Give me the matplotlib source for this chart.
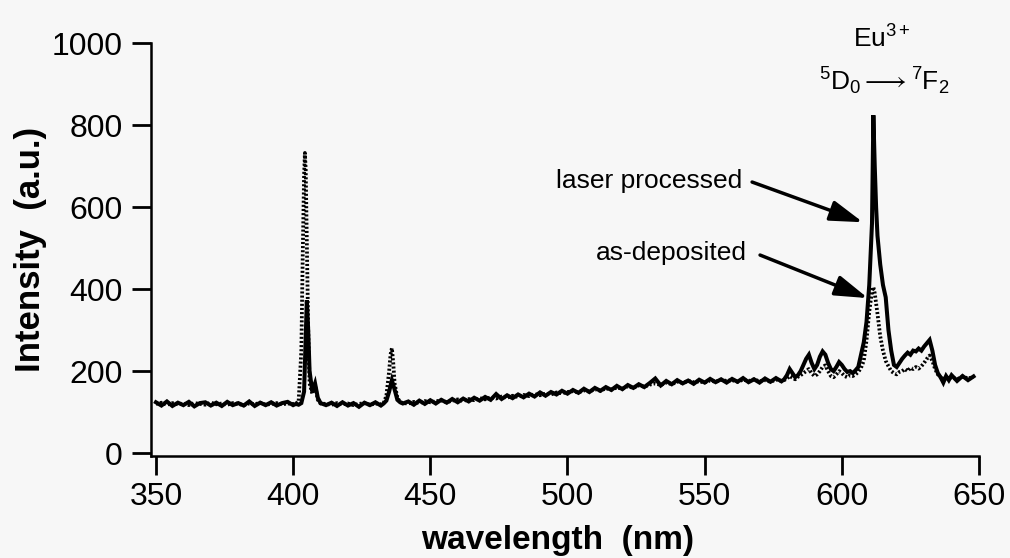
import matplotlib
matplotlib.use('Agg')
import matplotlib.pyplot as plt

plt.rcParams['font.family'] = ['Liberation Sans', 'DejaVu Sans']
plt.rcParams['mathtext.fontset'] = 'custom'
plt.rcParams['mathtext.rm'] = 'Liberation Sans'
plt.rcParams['mathtext.it'] = 'Liberation Sans:italic'
plt.rcParams['mathtext.default'] = 'regular'

# laser processed (solid)
wl_laser = [350, 352, 354, 356, 358, 360, 362, 364, 366, 368, 370, 372, 374, 376, 378, 380,
            382, 384, 386, 388, 390, 392, 394, 396, 398, 400,
            401, 402, 403, 404, 404.5, 405, 405.5, 406, 407, 408, 409, 410,
            412, 414, 416, 418, 420, 422, 424, 426, 428, 430, 432,
            433, 434, 435, 436, 437, 438, 439, 440,
            442, 444, 446, 448, 450, 452, 454, 456, 458, 460, 462, 464, 466, 468, 470,
            472, 474, 476, 478, 480, 482, 484, 486, 488, 490, 492, 494, 496, 498, 500,
            502, 504, 506, 508, 510, 512, 514, 516, 518, 520, 522, 524, 526, 528, 530,
            532, 534, 536, 538, 540, 542, 544, 546, 548, 550, 552, 554, 556, 558, 560,
            562, 564, 566, 568, 570, 572, 574, 576, 578,
            579, 580, 581, 582, 583, 584, 585, 586, 587, 588, 589, 590, 591, 592, 593,
            594, 595, 596, 597, 598, 599, 600, 601, 602, 603, 604, 605, 606, 607, 608,
            609, 610, 611, 611.5, 612, 612.5, 613, 614, 615, 616, 617, 618, 619, 620,
            621, 622, 623, 624, 625, 626, 627, 628, 629, 630, 631, 632, 633, 634, 635,
            636, 637, 638, 639, 640, 642, 644, 646, 648]
int_laser = [124, 116, 126, 115, 123, 117, 125, 114, 122, 124, 116, 123, 115, 125, 117, 122,
             116, 126, 115, 123, 117, 124, 116, 122, 125, 117,
             120, 118, 122, 150, 260, 373, 300, 200, 150, 170, 135, 122,
             117, 123, 115, 124, 116, 122, 113, 123, 117, 124, 116,
             121, 128, 150, 178, 155, 130, 124, 121,
             126, 118, 128, 120, 129, 121, 130, 123, 132, 124, 133, 126, 135, 128, 137,
             130, 144, 132, 141, 134, 143, 136, 145, 138, 148, 140, 149, 143, 152, 145,
             154, 147, 157, 149, 159, 152, 161, 154, 164, 156, 166, 159, 168, 161, 171,
             182, 165, 176, 168, 178, 170, 177, 169, 179, 172, 181, 173, 180, 172, 181,
             174, 183, 173, 180, 172, 182, 174, 183, 175,
             180, 190, 205, 195, 185, 190, 200, 215, 230, 240, 220, 205, 215, 235, 248,
             240, 220, 205, 200, 210, 222, 215, 205, 198, 200, 195, 202, 210, 240, 270,
             320, 410, 560, 824, 700, 600, 530, 460, 410, 380, 300, 250, 215, 210,
             220, 230, 238, 245, 240, 250, 248, 255, 250, 260, 268, 276, 250, 215, 195,
             185, 172, 188, 178, 190, 176, 188, 178, 187]

# as-deposited (dotted)
wl_asdep = [350, 352, 354, 356, 358, 360, 362, 364, 366, 368, 370, 372, 374, 376, 378, 380,
            382, 384, 386, 388, 390, 392, 394, 396, 398, 400,
            401, 402, 403, 403.5, 404, 404.3, 404.6, 405, 405.5, 406, 407, 408, 409, 410,
            412, 414, 416, 418, 420, 422, 424, 426, 428, 430, 432,
            433, 434, 435, 435.5, 436, 436.5, 437, 438, 439, 440,
            442, 444, 446, 448, 450, 452, 454, 456, 458, 460, 462, 464, 466, 468, 470,
            472, 474, 476, 478, 480, 482, 484, 486, 488, 490, 492, 494, 496, 498, 500,
            502, 504, 506, 508, 510, 512, 514, 516, 518, 520, 522, 524, 526, 528, 530,
            532, 534, 536, 538, 540, 542, 544, 546, 548, 550, 552, 554, 556, 558, 560,
            562, 564, 566, 568, 570, 572, 574, 576, 578,
            579, 580, 581, 582, 583, 584, 585, 586, 587, 588, 589, 590, 591, 592, 593,
            594, 595, 596, 597, 598, 599, 600, 601, 602, 603, 604, 605, 606, 607, 608,
            609, 610, 611, 611.5, 612, 613, 614, 615, 616, 617, 618, 619, 620,
            621, 622, 623, 624, 625, 626, 627, 628, 629, 630, 631, 632, 633, 634, 635,
            636, 637, 638, 639, 640, 642, 644, 646, 648]
int_asdep = [120, 123, 118, 122, 119, 121, 117, 122, 120, 118, 123, 119, 121, 118, 122, 120,
             117, 121, 119, 123, 118, 120, 122, 119, 121, 120,
             121, 125, 250, 480, 680, 732, 690, 520, 300, 170, 145, 165, 130, 121,
             120, 118, 122, 119, 121, 117, 120, 122, 118, 121, 119,
             122, 140, 200, 240, 256, 220, 170, 135, 125, 122,
             121, 125, 122, 127, 124, 126, 129, 124, 128, 131, 127, 132, 129, 134, 131,
             136, 133, 138, 135, 140, 137, 142, 139, 144, 141, 145, 143, 148, 146, 149,
             151, 148, 153, 150, 156, 152, 158, 155, 160, 157, 163, 159, 165, 162, 167,
             170, 166, 172, 168, 174, 171, 176, 173, 175, 172, 177, 174, 179, 176, 178,
             174, 179, 176, 180, 175, 178, 174, 179, 176,
             178, 182, 188, 184, 180, 186, 190, 195, 200, 205, 195, 188, 192, 200, 210,
             214, 200, 188, 185, 192, 200, 195, 188, 185, 190, 188, 192, 198, 208, 225,
             275, 345, 395, 405, 390, 340, 285, 250, 225, 212, 200, 195, 192,
             198, 200, 205, 200, 208, 205, 210, 206, 212, 220, 230, 238, 225, 205, 192,
             185, 180, 186, 182, 185, 180, 187, 182, 186]

bg = '#f7f7f7'
fig = plt.figure(figsize=(10.1, 5.58), dpi=100, facecolor=bg)
ax = fig.add_axes([0.1495, 0.1828, 0.8198, 0.7401], facecolor=bg)

ax.plot(wl_laser, int_laser, color='black', lw=2.9, solid_joinstyle='miter')
ax.plot(wl_asdep, int_asdep, color='black', lw=2.7, linestyle=(0, (0.55, 0.55)))

ax.set_xlim(348.2, 650)
ax.set_ylim(-7, 1000)
ax.set_xticks([350, 400, 450, 500, 550, 600, 650])
ax.set_yticks([0, 200, 400, 600, 800, 1000])

for s in ['top', 'right']:
    ax.spines[s].set_visible(False)
for s in ['left', 'bottom']:
    ax.spines[s].set_linewidth(1.8)

ax.tick_params(axis='both', direction='out', length=14, width=2, labelsize=23)
ax.tick_params(axis='y', pad=6.5)
ax.tick_params(axis='x', pad=5)

ax.set_ylabel('Intensity  (a.u.)', fontsize=25, fontweight='bold')
ax.yaxis.set_label_coords(-0.125, 0.5)
ax.set_xlabel('wavelength  (nm)', fontsize=24, fontweight='bold')
ax.xaxis.set_label_coords(0.491, -0.166)

# peak labels
ax.text(614.5, 990, r'Eu$^{3+}$', fontsize=19, ha='center', va='baseline', clip_on=False)
ax.text(615.5, 885, r'${}^{5}$D$_{0}$$\longrightarrow$${}^{7}$F$_{2}$', fontsize=19,
        ha='center', va='baseline', clip_on=False)

arrow = dict(arrowstyle='-|>,head_length=0.8,head_width=0.25', color='black', lw=2.5,
             mutation_scale=25, shrinkA=0, shrinkB=0)
ax.annotate('', xy=(607.7, 563), xytext=(567.3, 661), arrowprops=arrow)
ax.annotate('', xy=(609.5, 378), xytext=(570.2, 483), arrowprops=arrow)
ax.text(563.6, 663, 'laser processed', fontsize=19, ha='right', va='center')
ax.text(565.5, 488, 'as-deposited', fontsize=19, ha='right', va='center')

plt.savefig('out.png', dpi=100, facecolor=bg)
